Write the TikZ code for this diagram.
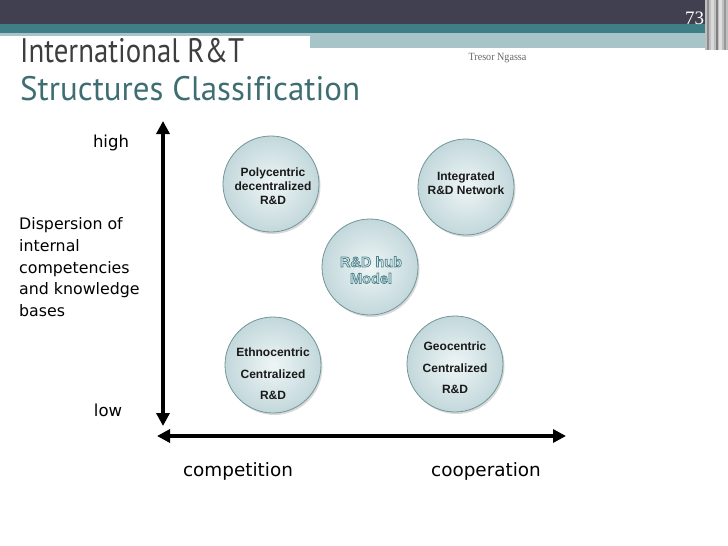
\documentclass[tikz,border=0pt]{standalone}
\usepackage{fontspec}
\usepackage{graphicx}
\usetikzlibrary{arrows.meta,shadows}
\newfontfamily\labfont{DejaVu Sans}
\newfontfamily\bubfont{Liberation Sans}
\newfontfamily\ttlfont[Ligatures=NoCommon]{PT Sans}
\newfontfamily\serfont{Liberation Serif}
\definecolor{topdark}{HTML}{404050}
\definecolor{bandteal}{HTML}{3E7E84}
\definecolor{bandlight}{HTML}{A7C5C8}
\definecolor{ttlgray}{HTML}{3E3E3E}
\definecolor{ttlteal}{HTML}{3F6E72}
\definecolor{bubin}{HTML}{EEF5F6}
\definecolor{bubout}{HTML}{C3D8DB}
\definecolor{bubedge}{HTML}{6F9599}
\definecolor{hubfill}{HTML}{D5E8EA}
\tikzset{
  bubble/.style={circle, minimum size=96pt, inner sep=0pt, draw=bubedge, line width=0.8pt,
    inner color=bubin, outer color=bubout,
    drop shadow={shadow xshift=1.5pt, shadow yshift=-2pt, opacity=0.25, fill=black!60}},
  bubtext/.style={align=center, inner sep=0pt, text=black!90, font=\bubfont\bfseries\fontsize{12}{14}\selectfont},
  lab/.style={inner sep=0pt, text=black, font=\labfont\fontsize{16.5}{21.7}\selectfont},
  axis/.style={line width=4pt, {Triangle[length=13pt,width=13pt]}-{Triangle[length=13pt,width=13pt]}}
}
\begin{document}
\begin{tikzpicture}[x=1pt,y=-1pt]
\useasboundingbox (0,0) rectangle (728,546);
% header bands
\fill[topdark] (0,0) rectangle (728,24);
\fill[bandteal] (0,24) rectangle (728,33);
\fill[bandlight] (0,33) rectangle (310,36);
\fill[bandlight] (310,33) rectangle (712,48);
\fill[black!25] (705,0) rectangle (728,50);
\fill[black!45] (707,0) rectangle (709,50);
\fill[black!15] (711,0) rectangle (714,50);
\fill[black!50] (716,0) rectangle (717.5,50);
\fill[black!12] (719,0) rectangle (722,50);
\fill[black!40] (724,0) rectangle (725.5,50);
\node[font=\serfont\fontsize{19}{20}\selectfont, text=white, inner sep=0pt] (pagenum) at (694.5,18) {73};
% titles
\node[anchor=base west, inner sep=0pt, text=ttlgray, font=\ttlfont\fontsize{34}{40}\selectfont] (t1) at (20,62) {\scalebox{0.848}[1]{International R\&T}};
\node[anchor=base west, inner sep=0pt, text=ttlteal, font=\ttlfont\fontsize{34}{40}\selectfont] (t2) at (20,100) {\scalebox{0.97}[1]{Structures Classification}};
\node[inner sep=0pt, text=black!60, font=\serfont\fontsize{11}{12}\selectfont] (author) at (497.5,58) {\scalebox{0.92}[1]{Tresor Ngassa}};
% axes
\coordinate (vtop) at (163,121);
\coordinate (vbot) at (163,426);
\coordinate (hleft) at (157,436);
\coordinate (hright) at (566,436);
\draw[axis] (vtop) -- (vbot);
\draw[axis] (hleft) -- (hright);
% axis labels
\node[lab] (high) at (111,143) {high};
\node[lab] (low) at (108,410) {low};
\node[lab, anchor=north west, align=left, font=\labfont\fontsize{15.8}{21.9}\selectfont] (disp) at (19,217) {Dispersion of\\internal\\competencies\\and knowledge\\bases};
\node[lab, font=\labfont\fontsize{18.4}{22}\selectfont] (comp) at (238,471) {competition};
\node[lab, font=\labfont\fontsize{18.4}{22}\selectfont] (coop) at (486,471) {cooperation};
% bubbles
\node[bubble] (poly) at (271,184) {};
\node[bubble] (integ) at (466,187) {};
\node[bubble] (hub) at (370,267) {};
\node[bubble] (ethno) at (273,365) {};
\node[bubble] (geo) at (455,364) {};
\node[bubtext] (polyt) at (273,186) {Polycentric\\decentralized\\R\&D};
\node[bubtext] (integt) at (466,183) {Integrated\\R\&D Network};
\node[bubtext, font=\bubfont\bfseries\fontsize{12}{21.7}\selectfont] (ethnot) at (273,374) {Ethnocentric\\Centralized\\R\&D};
\node[bubtext, font=\bubfont\bfseries\fontsize{12}{21.7}\selectfont] (geot) at (455,368) {Geocentric\\Centralized\\R\&D};
\node[bubtext, text=hubfill, font=\bubfont\bfseries\fontsize{14.5}{16.5}\selectfont] (hubt) at (371,270)
  {\special{pdf:literal direct 0.31 0.51 0.54 RG 2 Tr 0.7 w}R\&D hub\\\special{pdf:literal direct 0.31 0.51 0.54 RG 2 Tr 0.7 w}Model\special{pdf:literal direct 0 Tr 0.4 w}};
\end{tikzpicture}
\end{document}
